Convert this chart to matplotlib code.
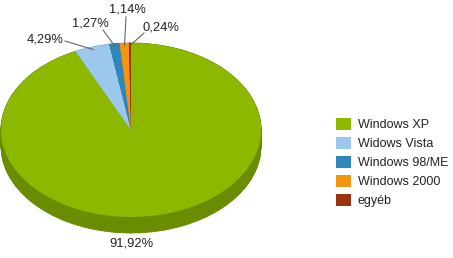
import numpy as np
import matplotlib
matplotlib.use("Agg")
import matplotlib.pyplot as plt

plt.rcParams['font.family'] = ['Liberation Sans', 'DejaVu Sans']

# data
labels = ['Windows XP', 'Widows Vista', 'Windows 98/ME', 'Windows 2000', 'egyéb']
shares = [91.92, 4.29, 1.27, 1.14, 0.24]
pct_text = ['91,92%', '4,29%', '1,27%', '1,14%', '0,24%']
top_colors = ['#8cb800', '#9cc8ee', '#2f86b9', '#f2960f', '#9b3212']
side_colors = ['#6a8c00', '#7aa0c0', '#246a93', '#c0760a', '#7a260d']

W, H = 453, 258
fig = plt.figure(figsize=(W / 100, H / 100), dpi=100)
ax = fig.add_axes([0, 0, 280 / W, 1])
ax.axis('off')

# pixel layout of the tilted pie
cx, cy = 131, 130      # centre (px, from top)
rx, ry = 130, 87       # half width / half height of top face
depth = 16 / ry        # side thickness in y units

# side of the "3d" pie: stack of darker pies
for k in np.linspace(depth, 0.0, 24):
    ax.pie(shares, colors=side_colors, startangle=90, counterclock=False,
           center=(0, -k), radius=1, wedgeprops=dict(linewidth=0.6, edgecolor=None))
for w in ax.patches:
    w.set_edgecolor(w.get_facecolor())

wedges, _ = ax.pie(shares, colors=top_colors, startangle=90, counterclock=False,
                   radius=1, wedgeprops=dict(linewidth=0))

ax.set_aspect('auto')
ax.set_xlim(-cx / rx, (280 - cx) / rx)
ax.set_ylim(-(H - cy) / ry, cy / ry)


def px(x, y):
    return (x - cx) / rx, (cy - y) / ry


txt = dict(fontsize=9.3, color='#222222', ha='center', va='center')
ax.text(*px(131, 243), pct_text[0], **txt)

# small slices: labels with leader lines
label_pos = {1: (45, 39), 2: (90, 24), 3: (127, 10), 4: (161, 27)}
line_start = {1: (65, 41), 2: (103, 30), 3: (126, 17), 4: (144, 33)}
for i in (1, 2, 3, 4):
    w = wedges[i]
    mid = np.deg2rad((w.theta1 + w.theta2) / 2)
    tip = (0.97 * np.cos(mid), 0.97 * np.sin(mid))
    ax.plot([px(*line_start[i])[0], tip[0]], [px(*line_start[i])[1], tip[1]],
            color='#666666', lw=0.8)
    ax.text(*px(*label_pos[i]), pct_text[i], **txt)

fig.legend(wedges, labels, loc='upper left', bbox_to_anchor=(336 / W, 1 - 118 / H),
           frameon=False, fontsize=9, borderpad=0, borderaxespad=0,
           handlelength=1.2, handleheight=1.12, handletextpad=0.55,
           labelspacing=0.45, labelcolor='#222222')

fig.savefig('out.png', dpi=100)
